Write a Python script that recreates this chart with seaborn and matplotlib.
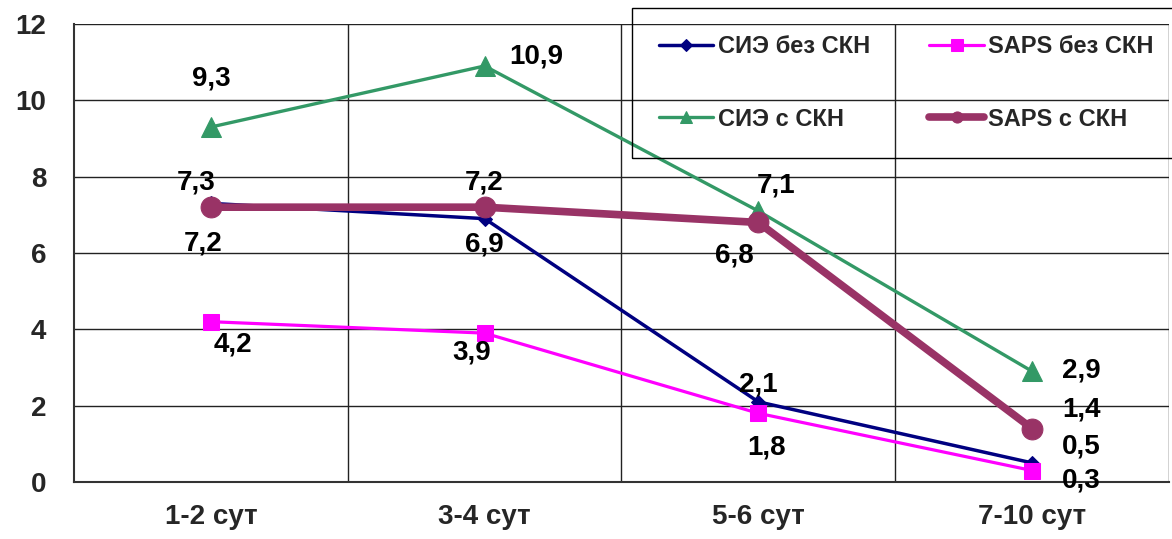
import matplotlib
matplotlib.use("Agg")
import matplotlib.pyplot as plt
import seaborn as sns
import pandas as pd
import numpy as np

categories = ["1-2 сут", "3-4 сут", "5-6 сут", "7-10 сут"]
series_names = ["СИЭ без СКН", "SAPS без СКН", "СИЭ с СКН", "SAPS с СКН"]
sie_bez = [7.3, 6.9, 2.1, 0.5]
saps_bez = [4.2, 3.9, 1.8, 0.3]
sie_s = [9.3, 10.9, 7.1, 2.9]
saps_s = [7.2, 7.2, 6.8, 1.4]
y_ticks = [0, 2, 4, 6, 8, 10, 12]

values = [sie_bez, saps_bez, sie_s, saps_s]
colors = ["#000080", "#FF00FF", "#339966", "#993366"]
markers = ["D", "s", "^", "o"]
msizes = [7, 11, 15, 15]
lwidths = [2.5, 2.3, 2.4, 5.5]
leg_msizes = [6, 8, 9, 8]

# label offsets in pixels (dx, dy) for each series / point
offsets = [
    [(-15, 21), (0, -26), (0, 17), (49, 16)],
    [(22, -23), (-13, -19), (8, -34), (49, -10)],
    [(0, 49), (52, 9), (18, 25), (49, 1)],
    [(-8, -36), (0, 25), (-24, -33), (49, 19)],
]

sns.set_theme(style="white")
plt.rcParams["font.family"] = ["Liberation Sans", "DejaVu Sans"]
plt.rcParams["font.weight"] = "bold"

fig = plt.figure(figsize=(11.72, 5.39), dpi=100)
ax = fig.add_axes([0.0631, 0.1058, 0.9343, 0.8497])

rows = []
for name, vals in zip(series_names, values):
    for i, v in enumerate(vals):
        rows.append({"x": i, "y": v, "series": name})
df = pd.DataFrame(rows)

for k, name in enumerate(series_names):
    sub = df[df["series"] == name]
    sns.lineplot(data=sub, x="x", y="y", ax=ax, color=colors[k], marker=markers[k],
                 markersize=msizes[k], linewidth=lwidths[k], markeredgecolor=colors[k],
                 label=name, zorder=3 + k)
    for i, v in enumerate(values[k]):
        dx, dy = offsets[k][i]
        ax.annotate(f"{v:.1f}".replace(".", ","), (i, v), xytext=(dx, dy),
                    textcoords="offset pixels", ha="center", va="center",
                    fontsize=20, fontweight="bold", color="black", zorder=10)

ax.set_xlim(-0.5, 3.5)
ax.set_ylim(0, 12)
ax.set_yticks(y_ticks)
ax.set_yticklabels([str(t) for t in y_ticks])
ax.set_xticks(range(len(categories)))
ax.set_xticklabels(categories)
ax.set_xticks([0.5, 1.5, 2.5, 3.5], minor=True)
ax.tick_params(axis="x", which="major", length=0, pad=16, labelsize=20)
ax.tick_params(axis="x", which="minor", length=6, width=1, direction="out", color="black")
ax.tick_params(axis="y", length=8, width=1, direction="out", pad=12, labelsize=20, color="black")
ax.set_xlabel("")
ax.set_ylabel("")

ax.grid(axis="y", which="major", color="#222222", linewidth=1.0)
ax.grid(axis="x", which="minor", color="#222222", linewidth=1.0)
ax.grid(axis="x", which="major", visible=False)
for side in ["left", "bottom"]:
    ax.spines[side].set_color("#333333")
    ax.spines[side].set_linewidth(1.5)
for side in ["top", "right"]:
    ax.spines[side].set_visible(False)
ax.set_axisbelow(True)

for lab in ax.get_xticklabels() + ax.get_yticklabels():
    lab.set_fontweight("bold")

handles, labels = ax.get_legend_handles_labels()
order = [0, 2, 1, 3]
leg = ax.legend([handles[i] for i in order], [labels[i] for i in order],
                ncol=2, loc="upper left", bbox_to_anchor=(0.5096, 1.035),
                frameon=True, fancybox=False,
                prop={"weight": "bold", "size": 17}, handlelength=2.3,
                handletextpad=0.2, columnspacing=2.5, labelspacing=2.1,
                borderpad=1.15, borderaxespad=0)
frame = leg.get_frame()
frame.set_facecolor("none")
frame.set_edgecolor("black")
frame.set_alpha(1.0)
frame.set_linewidth(1.0)
leg.set_zorder(20)
for j, h in zip(order, leg.legend_handles):
    h.set_markersize(leg_msizes[j])

fig.savefig("out.png", dpi=100)
